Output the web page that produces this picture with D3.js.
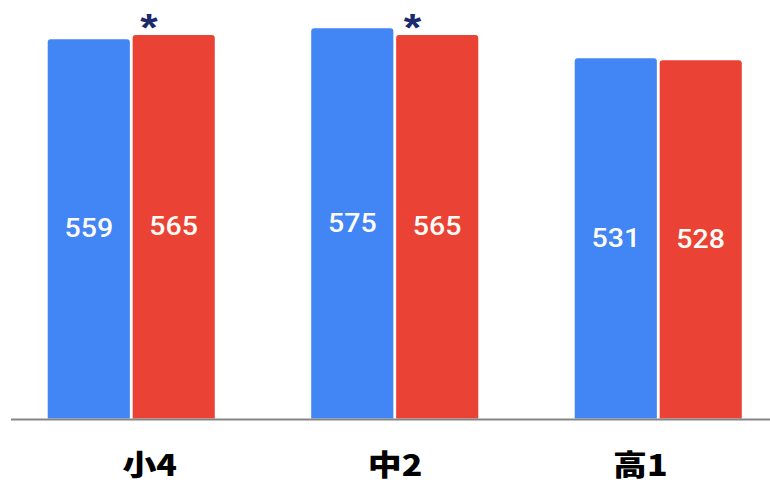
<!DOCTYPE html>
<html>
<head>
<meta charset="utf-8">
<script src="https://cdn.jsdelivr.net/npm/d3@7"></script>
<style>
  html, body { margin: 0; padding: 0; background: #ffffff; }
  svg { display: block; }
</style>
</head>
<body>
<script>
// Scores by school grade, two series per grade
const categories = ["小4", "中2", "高1"];
const seriesKeys = ["blue", "red"];
const blueValues = [559, 575, 531];
const redValues  = [565, 565, 528];
// grades whose red bar carries a significance mark
const markedGrades = ["小4", "中2"];
const seriesColors = ["#4285f4", "#ea4335"];

const rows = categories.map((c, i) => ({
  category: c,
  values: [
    { key: "blue", value: blueValues[i] },
    { key: "red",  value: redValues[i] }
  ]
}));

const W = 770, H = 484;
const svg = d3.select("body").append("svg")
  .attr("width", W).attr("height", H);

const y = d3.scaleLinear().domain([0, 600]).range([418.5, 11.3]);

const x0 = d3.scaleBand().domain(categories)
  .range([-0.5, 790]).paddingInner(0.366).paddingOuter(0.183);
const x1 = d3.scaleBand().domain(seriesKeys)
  .range([0, x0.bandwidth()]).paddingInner(0.033);
const color = d3.scaleOrdinal().domain(seriesKeys).range(seriesColors);

// category label positions
const xLabel = d3.scaleBand().domain(categories).range([27, 763]);

// bar outline with rounded top corners
function topRounded(x, yTop, w, yBase, r) {
  const p = d3.path();
  p.moveTo(x, yBase);
  p.lineTo(x, yTop + r);
  p.arcTo(x, yTop, x + r, yTop, r);
  p.lineTo(x + w - r, yTop);
  p.arcTo(x + w, yTop, x + w, yTop + r, r);
  p.lineTo(x + w, yBase);
  p.closePath();
  return p.toString();
}

const groups = svg.selectAll("g.grade").data(rows).join("g")
  .attr("class", "grade")
  .attr("transform", d => `translate(${x0(d.category)},0)`);

groups.selectAll("path.bar").data(d => d.values).join("path")
  .attr("class", "bar")
  .attr("fill", d => color(d.key))
  .attr("d", d => topRounded(x1(d.key), y(d.value), x1.bandwidth(), y(0), 3));

// value labels, centred inside each bar
groups.selectAll("text.val").data(d => d.values).join("text")
  .attr("class", "val")
  .attr("transform", d => `translate(${x1(d.key) + x1.bandwidth() / 2},${(y(d.value) + y(0)) / 2}) scale(1.12,1)`)
  .attr("text-anchor", "middle")
  .attr("dominant-baseline", "central")
  .attr("fill", "#fdfcf7")
  .style("font-family", "Roboto, 'Liberation Sans', Arial, sans-serif")
  .style("font-weight", "500")
  .style("font-size", "25.5px")
  .text(d => d.value);

// significance asterisks above the red bar
groups.filter(d => markedGrades.includes(d.category))
  .append("text")
  .attr("transform", d => `translate(${x1("red") + x1.bandwidth() * 0.2},${y(d.values[1].value) + 6}) scale(1.15,1)`)
  .attr("text-anchor", "middle")
  .attr("fill", "#1b2a6b")
  .style("font-family", "'Liberation Sans', Arial, sans-serif")
  .style("font-weight", "bold")
  .style("font-size", "39px")
  .text("*");

// baseline
svg.append("line")
  .attr("x1", 11).attr("x2", W)
  .attr("y1", y(0) + 1).attr("y2", y(0) + 1)
  .attr("stroke", "#858585").attr("stroke-width", 2);

// category labels
svg.selectAll("text.cat").data(categories).join("text")
  .attr("class", "cat")
  .attr("transform", d => `translate(${xLabel(d) + xLabel.bandwidth() / 2},475.5) scale(1.17,1)`)
  .attr("text-anchor", "middle")
  .attr("fill", "#000")
  .style("font-family", "'Noto Sans CJK JP', 'Noto Sans CJK SC', sans-serif")
  .style("font-weight", "900")
  .style("font-size", "29px")
  .text(d => d);
</script>
</body>
</html>
